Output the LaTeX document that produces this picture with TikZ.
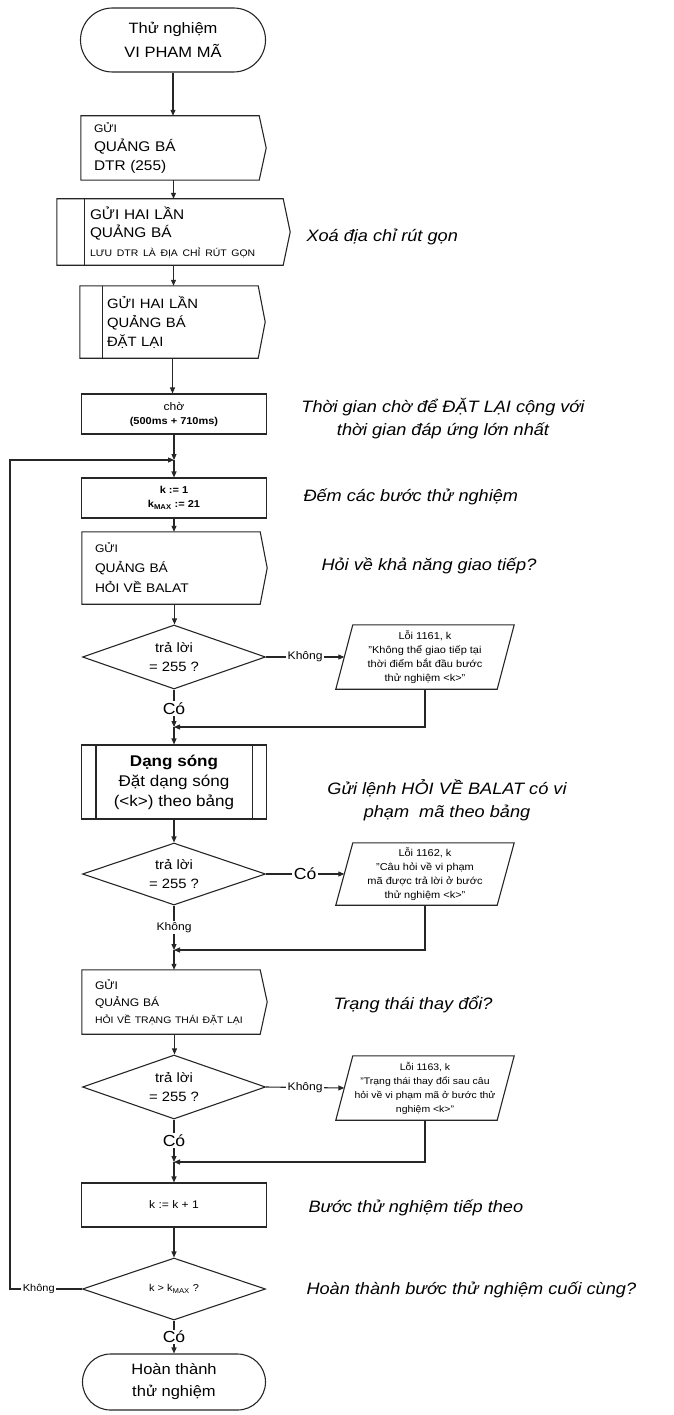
\documentclass[tikz,border=0pt]{standalone}
\usepackage{fontspec}
\setmainfont{Liberation Sans}[FakeStretch=1.1]
\usetikzlibrary{shapes.geometric,shapes.misc,arrows.meta}
\newcommand\setsz[2]{\fontsize{#1}{#2}\selectfont}
\newcommand\sendshape[1]{\draw[ln] (#1.north west) -- ([xshift=-7pt]#1.north east) -- (#1.east) -- ([xshift=-7pt]#1.south east) -- (#1.south west) -- cycle;}
\newcommand\innerbar[2]{\draw[ln] ([xshift=#2]#1.north west) -- ([xshift=#2]#1.south west);}
\newcommand\innerbarr[2]{\draw[ln] ([xshift=-#2]#1.north east) -- ([xshift=-#2]#1.south east);}
\newcommand\errshape[1]{\draw[ln] ([xshift=17pt]#1.north west) -- (#1.north east) -- ([xshift=-17pt]#1.south east) -- (#1.south west) -- cycle;}
\begin{document}
\begin{tikzpicture}[x=1pt,y=-1pt,
  ln/.style={draw=black!85, line width=1.1pt},
  arr/.style={ln, -{Triangle[length=6pt,width=5pt]}},
  term/.style={rounded rectangle, ln, minimum width=185pt, minimum height=64pt, align=center, inner sep=0pt},
  box/.style={rectangle, ln, minimum width=185pt, align=center, inner sep=0pt},
  sendbox/.style={rectangle, align=left, inner ysep=0pt},
  dec/.style={diamond, aspect=2.8, ln, minimum width=183pt, minimum height=64pt, inner sep=0pt, align=center},
  errbox/.style={rectangle, minimum width=178pt, minimum height=64pt, align=center, inner sep=0pt},
  note/.style={font=\itshape\setsz{16.5}{23}, align=center},
  lbl/.style={fill=white, inner sep=1.5pt},
  nolbl/.style={lbl, font=\setsz{11}{12}},
  yeslbl/.style={lbl, font=\setsz{16}{18}}]
\useasboundingbox (0,0) rectangle (673,1415);

% ---- top part
\node[term, font=\setsz{15}{24}] (start) at (173,40) {Thử nghiệm\\VI PHAM MÃ};

\node[sendbox, text width=159pt, inner xsep=13pt, minimum height=64pt, font=\setsz{14}{19}] (s1) at (173.5,148)
  {{\setsz{11}{19}GỬI}\\QUẢNG BÁ\\DTR (255)};
\sendshape{s1}

\node[sendbox, text width=167pt, inner xsep=33pt, minimum height=66pt, font=\setsz{14}{18.5}] (s2) at (173.5,232)
  {GỬI HAI LẦN\\QUẢNG BÁ\\{\setsz{9.5}{18.5}LƯU DTR LÀ ĐỊA CHỈ RÚT GỌN}};
\sendshape{s2}
\innerbar{s2}{28pt}

\node[sendbox, text width=131pt, inner xsep=27pt, minimum height=72pt, font=\setsz{13.5}{19}] (s3) at (172.5,322)
  {GỬI HAI LẦN\\QUẢNG BÁ\\ĐẶT LẠI};
\sendshape{s3}
\innerbar{s3}{23pt}

\node[box, minimum height=40pt, font=\setsz{11}{14}] (wait) at (174,414)
  {chờ\\{\setsz{10}{14}\bfseries (500ms + 710ms)}};
\coordinate (m0) at (174,460);

\node[box, minimum height=40pt, font=\setsz{10}{14}\bfseries] (k1) at (174,498)
  {k := 1\\k\textsubscript{MAX} := 21};

\node[sendbox, text width=159pt, inner xsep=13pt, minimum height=72pt, font=\setsz{12.5}{20}] (q1) at (174.5,568)
  {{\setsz{11}{20}GỬI}\\QUẢNG BÁ\\HỎI VỀ BALAT};
\sendshape{q1}

% ---- decision 1
\node[dec, font=\setsz{13.5}{19}] (d1) at (174,657) {trả lời\\= 255 ?};
\node[errbox, font=\setsz{10}{14}] (e1) at (425,657)
  {Lỗi 1161, k\\"Không thể giao tiếp tại\\thời điểm bắt đầu bước\\thử nghiệm <k>"};
\errshape{e1}
\coordinate (e1in) at ([xshift=8.5pt]e1.west);
\coordinate (m1) at (174,727);

\node[box, minimum height=74pt, font=\setsz{15.5}{20}] (wave) at (174,782)
  {{\bfseries Dạng sóng}\\Đặt dạng sóng\\(<k>) theo bảng};
\innerbar{wave}{15pt}
\innerbarr{wave}{15pt}

% ---- decision 2
\node[dec, minimum height=62pt, font=\setsz{13.5}{19}] (d2) at (174,874) {trả lời\\= 255 ?};
\node[errbox, minimum height=62pt, font=\setsz{10}{14}] (e2) at (425,874)
  {Lỗi 1162, k\\"Câu hỏi về vi phạm\\mã được trả lời ở bước\\thử nghiệm <k>"};
\errshape{e2}
\coordinate (e2in) at ([xshift=8.5pt]e2.west);
\coordinate (m2) at (174,950);

\node[sendbox, text width=159pt, inner xsep=13pt, minimum height=64pt, font=\setsz{11}{17}] (q2) at (174.5,1002)
  {GỬI\\QUẢNG BÁ\\{\setsz{9.5}{17}HỎI VỀ TRẠNG THÁI ĐẶT LẠI}};
\sendshape{q2}

% ---- decision 3
\node[dec, font=\setsz{13.5}{19}] (d3) at (174,1087) {trả lời\\= 255 ?};
\node[errbox, font=\setsz{9.5}{14}] (e3) at (425,1088)
  {Lỗi 1163, k\\"Trạng thái thay đổi sau câu\\hỏi về vi phạm mã ở bước thử\\nghiệm <k>"};
\errshape{e3}
\coordinate (e3in) at ([xshift=8.5pt]e3.west);
\coordinate (m3) at (174,1162);

\node[box, minimum height=44pt, font=\setsz{11}{14}] (inc) at (174,1205) {k := k + 1};

\node[dec, minimum height=62pt, font=\setsz{10}{12}] (d4) at (174,1289) {k > k\textsubscript{MAX} ?};
\node[term, minimum width=183pt, minimum height=56pt, font=\setsz{15}{22}] (end) at (174,1382) {Hoàn thành\\thử nghiệm};

\coordinate (lp1) at (10,1289);
\coordinate (lp2) at (10,460);

% ---- connectors
\draw[arr] (start.south) -- (start.south |- s1.north);
\draw[arr] (s1.south) -- (s1.south |- s2.north);
\draw[arr] (s2.south) -- (s2.south |- s3.north);
\draw[arr] (s3.south) -- (s3.south |- wait.north);
\draw[arr] (wait.south) -- (m0);
\draw[arr] (m0) -- (k1.north);
\draw[arr] (k1.south) -- (k1.south |- q1.north);
\draw[arr] (q1.south) -- (q1.south |- d1.north);

\draw[arr] (d1.east) -- node[nolbl]{Không} (e1in);
\draw[arr] (d1.south) -- node[yeslbl]{Có} (m1);
\draw[arr] (e1.south) |- (m1);
\draw[arr] (m1) -- (wave.north);

\draw[arr] (wave.south) -- (d2.north);
\draw[arr] (d2.east) -- node[yeslbl]{Có} (e2in);
\draw[arr] (d2.south) -- node[nolbl]{Không} (m2);
\draw[arr] (e2.south) |- (m2);
\draw[arr] (m2) -- (m2 |- q2.north);

\draw[arr] (q2.south) -- (q2.south |- d3.north);
\draw[arr] (d3.east) -- node[nolbl]{Không} (e3in);
\draw[arr] (d3.south) -- node[yeslbl]{Có} (m3);
\draw[arr] (e3.south) |- (m3);
\draw[arr] (m3) -- (inc.north);

\draw[arr] (inc.south) -- (d4.north);
\draw[arr] (d4.south) -- node[yeslbl]{Có} (end.north);
\draw[arr] (d4.west) -- node[nolbl, pos=0.6, font=\setsz{10}{12}]{Không} (lp1) -- (lp2) -- (m0);

% ---- annotations
\node[note, anchor=west] (a1) at (303,237) {Xoá địa chỉ rút gọn};
\node[note] (a2) at (443,419) {Thời gian chờ để ĐẶT LẠI cộng với\\thời gian đáp ứng lớn nhất};
\node[note, anchor=west] (a3) at (300,497) {Đếm các bước thử nghiệm};
\node[note, anchor=west] (a4) at (318,566) {Hỏi về khả năng giao tiếp?};
\node[note] (a5) at (447,800) {Gửi lệnh HỎI VỀ BALAT có vi\\phạm \ mã theo bảng};
\node[note, anchor=west] (a6) at (330,1005) {Trạng thái thay đổi?};
\node[note, anchor=west] (a7) at (305,1208) {Bước thử nghiệm tiếp theo};
\node[note, anchor=west] (a8) at (303,1290) {Hoàn thành bước thử nghiệm cuối cùng?};
\end{tikzpicture}
\end{document}
